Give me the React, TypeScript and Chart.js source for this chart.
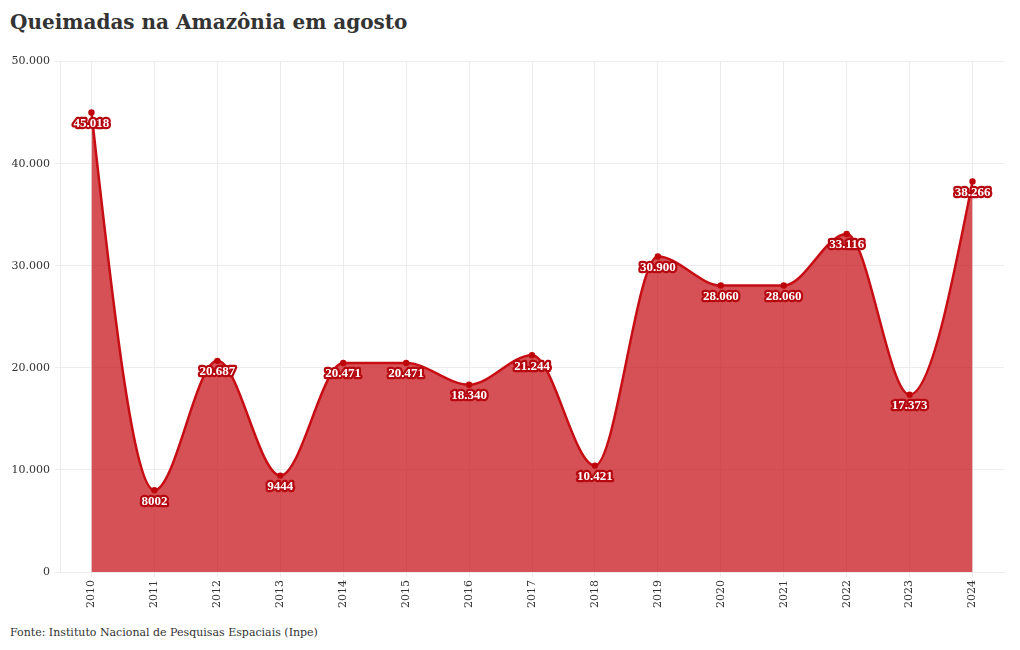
import React, { useEffect, useRef } from "react";
import { Chart, registerables } from "chart.js";

Chart.register(...registerables);

const years = ["2010", "2011", "2012", "2013", "2014", "2015", "2016", "2017", "2018", "2019", "2020", "2021", "2022", "2023", "2024"];
const fires = [45018, 8002, 20687, 9444, 20471, 20471, 18340, 21244, 10421, 30900, 28060, 28060, 33116, 17373, 38266];
const valueLabels = ["45.018", "8002", "20.687", "9444", "20.471", "20.471", "18.340", "21.244", "10.421", "30.900", "28.060", "28.060", "33.116", "17.373", "38.266"];
const yTickLabels = ["0", "10.000", "20.000", "30.000", "40.000", "50.000"];

const FONT = "'DejaVu Serif', serif";
const LABEL_FONT = "'Liberation Serif', 'DejaVu Serif', serif";

// Adjust end tangents to the d3-style monotone curve (one-sided end slopes)
const endTangentPlugin = {
  id: "endTangents",
  beforeDatasetsDraw(chart: any) {
    const meta = chart.getDatasetMeta(0);
    const line = meta.dataset;
    if (!line) return;
    line.updateControlPoints(chart.chartArea, "x");
    const pts = meta.data;
    const n = pts.length;
    if (n < 2) return;
    const p0 = pts[0], p1 = pts[1];
    const m1 = (p1.y - p1.cp1y) / (p1.x - p1.cp1x || 1);
    const s0 = (p1.y - p0.y) / (p1.x - p0.x);
    const t0 = (3 * s0 - m1) / 2;
    const dx0 = (p1.x - p0.x) / 3;
    p0.cp2x = p0.x + dx0;
    p0.cp2y = p0.y + t0 * dx0;
    const pn = pts[n - 1], pm = pts[n - 2];
    const mm = (pm.cp2y - pm.y) / (pm.cp2x - pm.x || 1);
    const sn = (pn.y - pm.y) / (pn.x - pm.x);
    const tn = (3 * sn - mm) / 2;
    const dxn = (pn.x - pm.x) / 3;
    pn.cp1x = pn.x - dxn;
    pn.cp1y = pn.y - tn * dxn;
  },
};

const labelPlugin = {
  id: "valueLabels",
  afterDatasetsDraw(chart: any) {
    const ctx = chart.ctx;
    const meta = chart.getDatasetMeta(0);
    ctx.save();
    ctx.font = `bold 13px ${LABEL_FONT}`;
    ctx.textAlign = "center";
    ctx.textBaseline = "middle";
    ctx.lineJoin = "round";
    meta.data.forEach((pt: any, i: number) => {
      const x = pt.x;
      const y = pt.y + 11;
      ctx.lineWidth = 4.5;
      ctx.strokeStyle = "rgb(182,8,16)";
      ctx.strokeText(valueLabels[i], x, y);
      ctx.fillStyle = "#ffffff";
      ctx.fillText(valueLabels[i], x, y);
    });
    ctx.restore();
  },
};

export default function App() {
  const ref = useRef<HTMLCanvasElement | null>(null);
  useEffect(() => {
    if (!ref.current) return;
    const chart = new Chart(ref.current, {
      type: "line",
      data: {
        labels: years,
        datasets: [
          {
            data: fires,
            borderColor: "rgb(198,14,20)",
            borderWidth: 2.5,
            backgroundColor: "rgba(200,20,25,0.74)",
            fill: "origin",
            cubicInterpolationMode: "monotone",
            pointRadius: 3.2,
            pointBackgroundColor: "rgb(190,5,10)",
            pointBorderColor: "rgb(190,5,10)",
            pointBorderWidth: 0,
          },
        ],
      },
      options: {
        animation: false,
        responsive: false,
        devicePixelRatio: 1,
        layout: { padding: { top: 10, right: 16, left: 0, bottom: 0 } },
        plugins: { legend: { display: false }, tooltip: { enabled: false } },
        scales: {
          x: {
            type: "category",
            offset: true,
            grid: { offset: false, color: "#ececec", tickLength: 5 },
            border: { display: true, color: "#ececec" },
            ticks: {
              maxRotation: 90,
              minRotation: 90,
              color: "#333",
              padding: 3,
              font: { family: FONT, size: 11 },
            },
            afterFit: (s: any) => {
              s.height = 48;
            },
          },
          y: {
            min: 0,
            max: 50000,
            ticks: {
              stepSize: 10000,
              color: "#333",
              padding: 5,
              font: { family: FONT, size: 11 },
              callback: (_v: any, i: number) => yTickLabels[i],
            },
            grid: { color: "#ececec", tickLength: 5 },
            border: { display: true, color: "#ececec" },
            afterFit: (s: any) => {
              s.width = 60;
            },
          },
        },
      },
      plugins: [endTangentPlugin, labelPlugin],
    } as any);
    return () => chart.destroy();
  }, []);

  return (
    <div style={{ position: "absolute", left: 0, top: 0, width: 1020, height: 650, background: "#fff", fontFamily: FONT }}>
      <div style={{ position: "absolute", left: 10, top: 8, fontSize: 20, fontWeight: "bold", color: "#333", whiteSpace: "nowrap", lineHeight: "28px" }}>
        Queimadas na Amazônia em agosto
      </div>
      <div style={{ position: "absolute", left: 0, top: 50, width: 1020, height: 570 }}>
        <canvas ref={ref} width={1020} height={570} />
      </div>
      <div style={{ position: "absolute", left: 10, top: 625, fontSize: 11, color: "#333", whiteSpace: "nowrap", lineHeight: "16px" }}>
        Fonte: Instituto Nacional de Pesquisas Espaciais (Inpe)
      </div>
    </div>
  );
}
